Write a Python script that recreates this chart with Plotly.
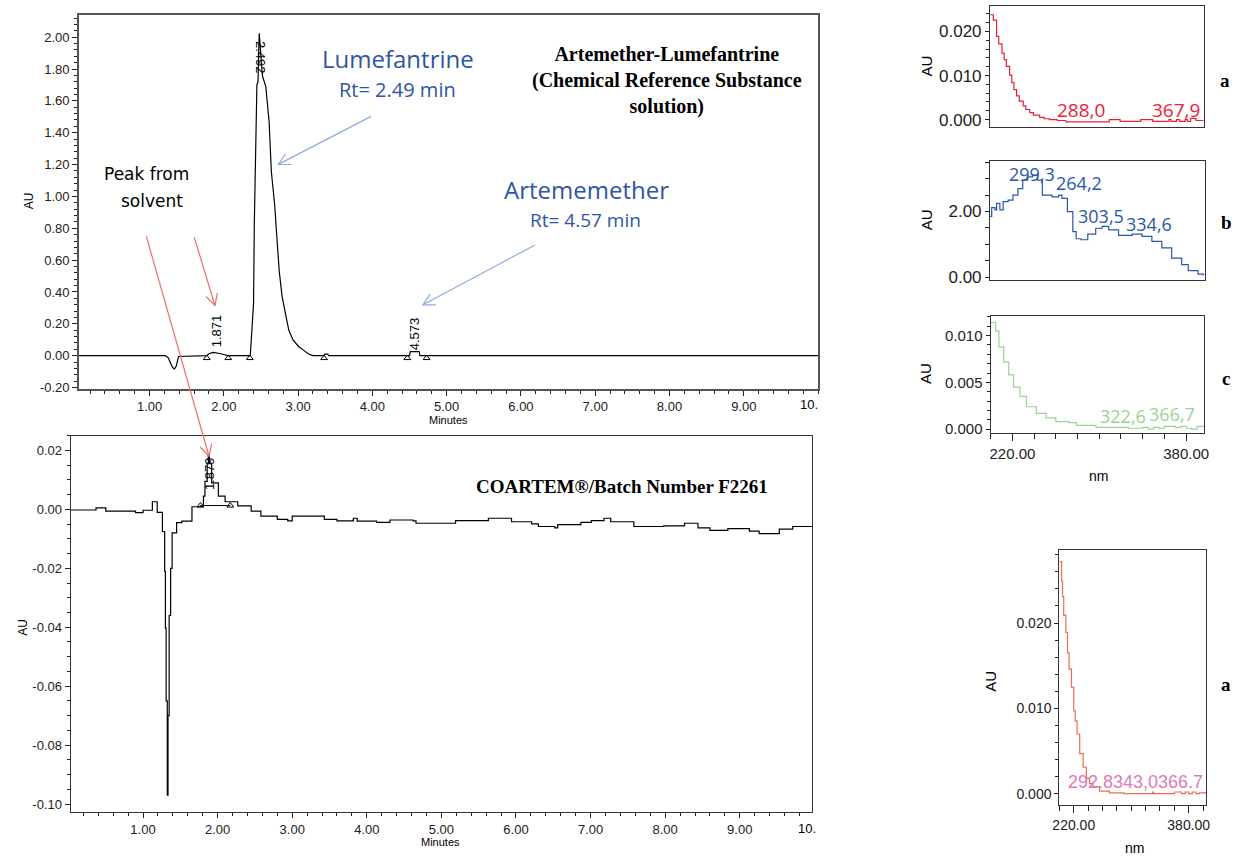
import math
import plotly.graph_objects as go

W, H = 1238, 858

# ---------------- data ----------------
# Top chromatogram (reference substance)
top_time = [0.05, 1.21, 1.25, 1.28, 1.31, 1.336, 1.36, 1.38, 1.39, 1.767, 1.80, 1.855, 1.90, 1.96, 2.01, 2.05,
            2.356, 2.37, 2.40, 2.41, 2.43, 2.445, 2.46, 2.476, 2.52, 2.565, 2.61, 2.633, 2.64, 2.684, 2.71,
            2.745, 2.785, 2.843, 2.874, 2.931, 3.006, 3.095, 3.14, 3.20, 3.35, 3.36, 3.40, 3.41,
            4.50, 4.51, 4.63, 4.64, 10.0]
top_au = [0.0, 0.0, -0.012, -0.045, -0.075, -0.083, -0.065, -0.025, -0.005, 0.0, 0.012, 0.020, 0.018, 0.012, 0.006, 0.0,
          0.0, 0.13, 0.33, 0.82, 1.40, 1.70, 1.72, 2.025, 1.756, 1.69, 1.466, 1.248, 1.155, 0.948, 0.783,
          0.534, 0.369, 0.244, 0.161, 0.099, 0.058, 0.027, 0.010, 0.0, 0.0, 0.010, 0.010, 0.0,
          0.0, 0.025, 0.025, 0.0, 0.0]
top_marks_t = [1.77, 2.06, 2.35, 3.35, 4.47, 4.73]
top_marks_au = [-0.015, -0.015, -0.015, -0.015, -0.015, -0.015]
top_ticks = [1, 2, 3, 4, 5, 6, 7, 8, 9]
top_ticklabels = ["1.00", "2.00", "3.00", "4.00", "5.00", "6.00", "7.00", "8.00", "9.00"]
top_yticks = [-0.2, 0.0, 0.2, 0.4, 0.6, 0.8, 1.0, 1.2, 1.4, 1.6, 1.8, 2.0]
top_yticklabels = ["-0.20", "0.00", "0.20", "0.40", "0.60", "0.80", "1.00", "1.20", "1.40", "1.60", "1.80", "2.00"]

# Bottom chromatogram (COARTEM sample)
bot_time = [0.03, 0.37, 0.50, 0.90, 1.00, 1.125, 1.19, 1.26, 1.29, 1.30, 1.31, 1.325, 1.335, 1.35, 1.37, 1.39,
            1.45, 1.52, 1.656, 1.77, 1.81, 1.83, 1.86, 1.875, 1.89, 1.92, 2.01, 2.10, 2.27, 2.45, 2.58,
            2.80, 2.94, 3.00, 3.16, 3.43, 3.60, 3.82, 3.87, 4.13, 4.31, 4.62, 4.66, 5.06, 5.19, 5.55,
            5.63, 5.85, 5.94, 6.21, 6.30, 6.52, 6.56, 6.87, 7.01, 7.18, 7.27, 7.58, 7.98, 8.26, 8.44,
            8.60, 8.84, 9.13, 9.26, 9.35, 9.53, 9.71, 9.97]
bot_au = [-0.0002, 0.0005, -0.0006, -0.0011, -0.0003, 0.0026, -0.001, -0.0075, -0.021, -0.0403, -0.065, -0.097,
          -0.070, -0.036, -0.020, -0.008, -0.0045, -0.004, 0.0009, 0.001, 0.0045, 0.0095, 0.0155, 0.0186,
          0.0155, 0.009, 0.0045, 0.0026, 0.0012, -0.0006, -0.0023, -0.0034, -0.0039, -0.0023, -0.0023,
          -0.0034, -0.0039, -0.003, -0.004, -0.0044, -0.0036, -0.0039, -0.0047, -0.0047, -0.0038, -0.0038,
          -0.003, -0.003, -0.0042, -0.0049, -0.0058, -0.0063, -0.0052, -0.0044, -0.0038, -0.003, -0.0042,
          -0.0058, -0.0056, -0.0047, -0.0063, -0.0071, -0.0065, -0.0074, -0.0082, -0.0082, -0.0067,
          -0.0058, -0.0058]
bot_base_t = [1.77, 2.17]
bot_base_au = [0.0013, 0.0013]
bot_yticks = [-0.10, -0.08, -0.06, -0.04, -0.02, 0.0, 0.02]
bot_yticklabels = ["-0.10", "-0.08", "-0.06", "-0.04", "-0.02", "0.00", "0.02"]

# UV spectra
spec_a_nm = [200, 203, 206, 208, 211, 213, 215, 218, 220, 222, 224.5, 227, 230.6, 233, 236.6, 240, 245.7, 250,
             254.8, 262, 270, 285, 300, 309, 310, 320, 330, 338, 339, 350, 360, 365, 367, 370, 372, 375, 380,
             382, 385, 390, 397]
spec_a_au = [0.0238, 0.0226, 0.0189, 0.0172, 0.0151, 0.0136, 0.0121, 0.0101, 0.0084, 0.0068, 0.0054, 0.0042,
             0.0031, 0.0023, 0.0016, 0.0010, 0.0005, 0.0002, 0.0, -0.0002, -0.0005, -0.0005, -0.0005, -0.0005,
             0.0, -0.0004, -0.0004, -0.0004, 0.0, -0.0004, -0.0004, 0.0, -0.0004, -0.0004, 0.0, -0.0004,
             0.0, -0.0004, 0.0003, -0.0002, -0.0002]
spec_b_nm = [200, 201.5, 204.5, 206, 209, 212, 216.6, 221, 225.6, 230, 234.6, 239, 243.6, 248, 257, 263, 266,
             271, 276, 279, 283.6, 289.7, 297, 303, 309, 318, 330.5, 339.5, 348.6, 357.7, 366.8, 376, 382,
             391, 396]
spec_b_au = [1.85, 2.12, 2.05, 2.25, 2.05, 2.30, 2.35, 2.50, 2.70, 2.96, 3.06, 3.11, 2.96, 2.50, 2.45, 2.50,
             2.40, 2.00, 1.39, 1.17, 1.14, 1.31, 1.49, 1.55, 1.44, 1.27, 1.31, 1.24, 1.09, 0.89, 0.58, 0.38,
             0.20, 0.09, 0.05]
spec_c_nm = [200, 204.6, 207.6, 212, 216.6, 221, 227, 233, 242, 251, 260, 272, 279, 297, 327, 340, 345, 350,
             355, 360, 370, 375, 380, 385, 390, 397]
spec_c_au = [0.0114, 0.0105, 0.0088, 0.0072, 0.0058, 0.0045, 0.0035, 0.0024, 0.0017, 0.0012, 0.0008, 0.0007,
             0.0004, 0.0002, 0.0001, 0.0002, 0.0, 0.0002, 0.0001, 0.0003, 0.0002, 0.0003, 0.0001, 0.0, 0.0003,
             0.0001]
spec_d_nm = [200.5, 203, 204.4, 206, 209, 211.3, 213.6, 216.8, 220, 222, 224.7, 228.3, 233, 237.5, 242, 246.7,
             255.9, 269.7, 290, 320, 330, 331, 350, 360, 370, 375, 380, 385, 390, 395, 404]
spec_d_au = [0.0272, 0.0249, 0.0231, 0.0209, 0.0189, 0.0165, 0.0146, 0.0125, 0.0097, 0.0085, 0.0070, 0.0047,
             0.0031, 0.0018, 0.0012, 0.0008, 0.0003, 0.0001, 0.0, 0.0, 0.0002, 0.0, 0.0, 0.0002, 0.0, 0.0002,
             0.0, 0.0002, 0.0, 0.0001, 0.0]

# ---------------- helpers ----------------
def fx(x):
    return x / W


def fy(y):
    return 1 - y / H


SANS = "Liberation Sans"
BLUE = "#2F55A4"
LBLUE = "#8FAADC"
RED = "#E8716A"

fig = go.Figure()

fig.add_trace(go.Scatter(x=top_time, y=top_au, mode="lines", line=dict(color="black", width=1.2),
                         xaxis="x", yaxis="y", showlegend=False))
fig.add_trace(go.Scatter(x=top_marks_t, y=top_marks_au, mode="markers",
                         marker=dict(symbol="triangle-up-open", size=6, color="black", line=dict(width=1)),
                         xaxis="x", yaxis="y", showlegend=False))

fig.add_trace(go.Scatter(x=bot_time, y=bot_au, mode="lines", line=dict(color="black", width=1.2, shape="hv"),
                         xaxis="x2", yaxis="y2", showlegend=False))
fig.add_trace(go.Scatter(x=bot_base_t, y=bot_base_au, mode="lines+markers", line=dict(color="black", width=1),
                         marker=dict(symbol="triangle-up-open", size=6, color="black", line=dict(width=1)),
                         xaxis="x2", yaxis="y2", showlegend=False))

spec_colors = ["#E8203A", "#2A56A8", "#9CD296", "#F26A4F"]
specs = [(spec_a_nm, spec_a_au), (spec_b_nm, spec_b_au), (spec_c_nm, spec_c_au), (spec_d_nm, spec_d_au)]
for i, ((nx, ny), col) in enumerate(zip(specs, spec_colors)):
    fig.add_trace(go.Scatter(x=nx, y=ny, mode="lines", line=dict(color=col, width=1.2, shape="hv"),
                             xaxis=f"x{i + 3}", yaxis=f"y{i + 3}", showlegend=False))


def axis(domain, rng, anchor, size=13, color="#333", lw=1.2, **kw):
    d = dict(domain=domain, range=rng, anchor=anchor, showline=True, linecolor=color, linewidth=lw,
             mirror=True, showgrid=False, zeroline=False, ticks="outside", ticklen=5, tickcolor="#222",
             tickfont=dict(family=SANS, size=size, color="#222"))
    d.update(kw)
    return d


layout = dict(width=W, height=H, margin=dict(l=0, r=0, t=0, b=0), paper_bgcolor="white", plot_bgcolor="white",
              showlegend=False)

# top chromatogram
layout["xaxis"] = axis([fx(72.7), fx(819)], [0.05, 10.0], "y", color="#555", lw=1.6,
                       tickmode="array", tickvals=top_ticks, ticktext=top_ticklabels,
                       minor=dict(dtick=0.2, tick0=0, ticks="outside", ticklen=3, tickcolor="#222"))
layout["yaxis"] = axis([fy(392), fy(15)], [-0.208, 2.14], "x", color="#555", lw=1.6,
                       tickmode="array", tickvals=top_yticks, ticktext=top_yticklabels,
                       minor=dict(dtick=0.04, tick0=0, ticks="outside", ticklen=3, tickcolor="#222"))
# bottom chromatogram
layout["xaxis2"] = axis([fx(64.3), fx(813)], [0.03, 9.97], "y2",
                        tickmode="array", tickvals=top_ticks, ticktext=top_ticklabels,
                        minor=dict(dtick=0.2, tick0=0, ticks="outside", ticklen=3, tickcolor="#222"))
layout["yaxis2"] = axis([fy(819), fy(439.3)], [-0.1028, 0.025], "x2",
                        tickmode="array", tickvals=bot_yticks, ticktext=bot_yticklabels,
                        minor=dict(dtick=0.005, tick0=0, ticks="outside", ticklen=3, tickcolor="#222"))
# spectrum a
layout["xaxis3"] = axis([fx(992.7), fx(1208.3)], [200, 397], "y3", ticks="", showticklabels=False)
layout["yaxis3"] = axis([fy(127.7), fy(6)], [-0.0016, 0.0258], "x3", size=17, ticklen=4,
                        tickmode="array", tickvals=[0, 0.01, 0.02], ticktext=["0.000", "0.010", "0.020"],
                        minor=dict(dtick=0.002, tick0=0, ticks="outside", ticklen=3, tickcolor="#222"))
# spectrum b
layout["xaxis4"] = axis([fx(992.7), fx(1209.3)], [200, 397], "y4", ticks="", showticklabels=False)
layout["yaxis4"] = axis([fy(282.7), fy(162.7)], [-0.10, 3.53], "x4", size=17, ticklen=4,
                        tickmode="array", tickvals=[0, 2], ticktext=["0.00", "2.00"],
                        minor=dict(dtick=0.5, tick0=0, ticks="outside", ticklen=4, tickcolor="#222"))
# spectrum c
layout["xaxis5"] = axis([fx(993.3), fx(1209)], [200, 396.7], "y5", size=15, ticklen=7,
                        tickmode="array", tickvals=[220, 380], ticktext=["220.00", "380.00"],
                        minor=dict(dtick=20, tick0=0, ticks="outside", ticklen=5, tickcolor="#222"))
layout["yaxis5"] = axis([fy(436.7), fy(319)], [-0.00042, 0.01205], "x5", size=15, ticklen=4,
                        tickmode="array", tickvals=[0, 0.005, 0.01], ticktext=["0.000", "0.005", "0.010"],
                        minor=dict(dtick=0.001, tick0=0, ticks="outside", ticklen=3, tickcolor="#222"))
# spectrum d
layout["xaxis6"] = axis([fx(1062.7), fx(1210.7)], [200, 404], "y6", size=14, ticklen=7,
                        tickmode="array", tickvals=[220, 380], ticktext=["220.00", "380.00"],
                        minor=dict(dtick=20, tick0=0, ticks="outside", ticklen=5, tickcolor="#222"))
layout["yaxis6"] = axis([fy(811.7), fy(555)], [-0.00133, 0.0285], "x6", size=14, ticklen=4,
                        tickmode="array", tickvals=[0, 0.01, 0.02], ticktext=["0.000", "0.010", "0.020"],
                        minor=dict(dtick=0.002, tick0=0, ticks="outside", ticklen=3, tickcolor="#222"))

fig.update_layout(**layout)


# ---------------- text ----------------
def note(text, x, y, size, color="black", family=SANS, angle=0, xanchor="center"):
    fig.add_annotation(text=text, x=fx(x), y=fy(y), xref="paper", yref="paper", showarrow=False,
                       xanchor=xanchor, yanchor="middle", textangle=angle,
                       font=dict(family=family, size=size, color=color))


note("Lumefantrine", 395, 59, 24, BLUE, "Open Sans")
note("Rt= 2.49 min", 394.5, 90, 20, BLUE, "Open Sans")
note("Artememether", 585, 191, 24, BLUE, "Open Sans")
note("Rt= 4.57 min", 584, 222, 19, BLUE, "Open Sans")
note("<b>Artemether-Lumefantrine<br>(Chemical Reference Substance<br>solution)</b>", 666, 81, 20,
     "black", "Liberation Serif")
note("Peak from", 141, 175, 17, "black", "DejaVu Sans")
note("solvent", 146, 203, 17, "black", "DejaVu Sans")
note("<b>COARTEM®/Batch Number F2261</b>", 621, 490, 19, "black", "Liberation Serif")

note("2.492", 256, 58, 13, angle=90)
note("1.871", 211, 333, 13, angle=-90)
note("4.573", 411, 337, 13, angle=-90)
note("1.879", 204, 478, 13, angle=-90)

note("10.", 810, 408, 13)
note("10.", 808, 835, 13)
note("Minutes", 446, 423, 11)
note("Minutes", 438, 849, 11)
note("AU", 23, 202, 12, angle=-90)
note("AU", 16, 632, 12, angle=-90)

note("AU", 928, 67, 15, angle=-90)
note("AU", 928, 222, 15, angle=-90)
note("AU", 928, 377, 15, angle=-90)
note("AU", 993, 687, 15, angle=-90)
note("nm", 1102, 480, 14)
note("nm", 1139, 855, 14)

note("288,0", 1085, 111, 19, "#E8203A", "Open Sans")
note("367,9", 1180, 111, 19, "#E8203A", "Open Sans")
note("299,3", 1035, 175, 18, "#2A56A8", "Open Sans")
note("264,2", 1082, 185, 18, "#2A56A8", "Open Sans")
note("303,5", 1105, 218, 18, "#2A56A8", "Open Sans")
note("334,6", 1153, 226, 18, "#2A56A8", "Open Sans")
note("322,6", 1127, 419, 18, "#9CD296", "Open Sans")
note("366,7", 1176, 417, 18, "#9CD296", "Open Sans")
note("292.8343,0366.7", 1140, 788, 18, "#E07AB8", SANS)

note("<b>a</b>", 1230, 81, 19, "black", "Liberation Serif")
note("<b>b</b>", 1231, 224, 19, "black", "Liberation Serif")
note("<b>c</b>", 1237, 382, 19, "black", "Liberation Serif", xanchor="right")
note("<b>a</b>", 1231, 690, 19, "black", "Liberation Serif")


# ---------------- arrows ----------------
def arrow(x0, y0, x1, y1, color, head=13, ang=28):
    dx, dy = x1 - x0, y1 - y0
    L = math.hypot(dx, dy)
    ux, uy = dx / L, dy / L
    pts = []
    for s in (1, -1):
        a = math.radians(ang) * s
        rx = ux * math.cos(a) - uy * math.sin(a)
        ry = ux * math.sin(a) + uy * math.cos(a)
        pts.append((x1 - head * rx, y1 - head * ry))
    fig.add_shape(type="line", xref="paper", yref="paper", x0=fx(x0), y0=fy(y0), x1=fx(x1), y1=fy(y1),
                  line=dict(color=color, width=1.2), layer="above")
    path = (f"M {fx(pts[0][0])} {fy(pts[0][1])} L {fx(x1)} {fy(y1)} L {fx(pts[1][0])} {fy(pts[1][1])}")
    fig.add_shape(type="path", xref="paper", yref="paper", path=path, line=dict(color=color, width=1.2),
                  layer="above")


arrow(367.7, 117.3, 274, 165.7, LBLUE)
arrow(532.7, 247.3, 420, 307.3, LBLUE)
arrow(189, 239, 210, 308, RED)
arrow(140.7, 238.3, 204, 460, RED)

fig.write_html("out.html", config={"displayModeBar": False},
               post_script="document.body.style.margin='0px';document.body.style.overflow='hidden';")
